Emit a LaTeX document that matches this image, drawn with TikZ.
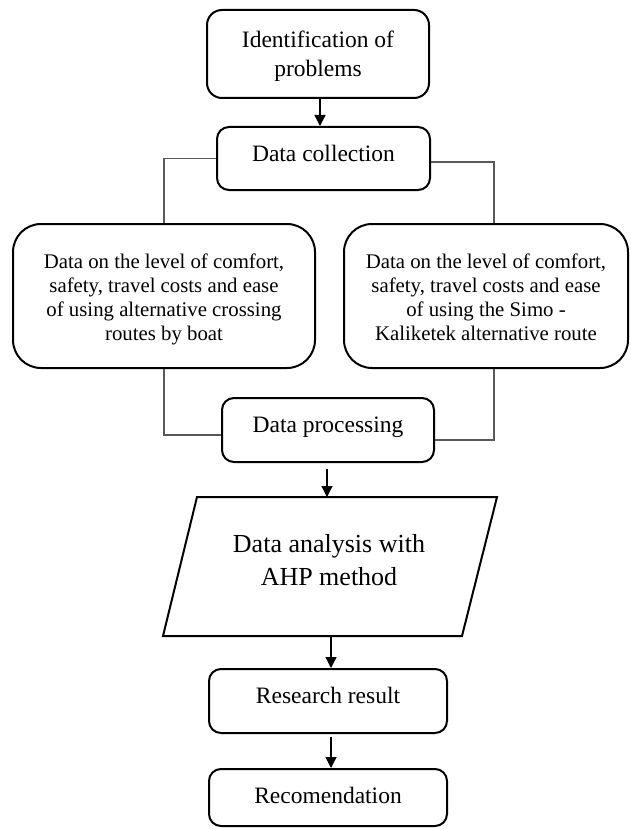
\documentclass[tikz,border=0pt]{standalone}
\usepackage{fontspec}
\setmainfont{Liberation Serif}
\usetikzlibrary{arrows.meta,calc}
\begin{document}
\begin{tikzpicture}[x=1pt,y=-1pt,
  box/.style={draw=black, line width=2pt, inner sep=0pt, rounded corners=#1},
  txt/.style={inner sep=0pt, font=\fontsize{23.5}{29}\selectfont},
  sidetxt/.style={inner sep=0pt, align=center, font=\fontsize{20.8}{24}\selectfont},
  bigtxt/.style={inner sep=0pt, align=center, font=\fontsize{26}{33}\selectfont},
  arr/.style={line width=1.3pt, -{Triangle[length=11pt,width=11pt]}},
  gline/.style={line width=1.2pt, draw=black!65}]
\useasboundingbox (0,0) rectangle (630,829);
% boxes
\node[box=15pt, minimum width=222pt, minimum height=88pt] (b1) at (318,54) {};
\node[txt, align=center] (t1) at (318,56) {Identification of\\problems};
\node[box=12pt, minimum width=213pt, minimum height=63pt] (b2) at (323.5,158.5) {};
\node[txt, anchor=base] (t2) at (323.5,162) {Data collection};
\node[box=28pt, minimum width=302pt, minimum height=144pt] (lb) at (164,296) {};
\node[sidetxt] (tl) at (164,299) {Data on the level of comfort,\\safety, travel costs and ease\\of using alternative crossing\\routes by boat};
\node[box=28pt, minimum width=284pt, minimum height=144pt] (rb) at (486,296) {};
\node[sidetxt] (tr) at (486,297) {Data on the level of comfort,\\safety, travel costs and ease\\of using the Simo -\\Kaliketek alternative route};
\node[box=12pt, minimum width=212pt, minimum height=64pt] (bp) at (328,430) {};
\node[txt, anchor=base] (tp) at (328,432) {Data processing};
% parallelogram
\coordinate (p1) at (197,497);
\coordinate (p2) at (497,497);
\coordinate (p3) at (462,636);
\coordinate (p4) at (163,636);
\draw[line width=2pt, line join=miter] (p1) -- (p2) -- (p3) -- (p4) -- cycle;
\node[bigtxt] (ta) at (329,560) {Data analysis with\\AHP method};
\node[box=12pt, minimum width=238pt, minimum height=64pt] (br) at (328,701) {};
\node[txt, anchor=base] (trr) at (328,703) {Research result};
\node[box=12pt, minimum width=238pt, minimum height=57pt] (bc) at (328,797.5) {};
\node[txt, anchor=base] (tc) at (328,803) {Recomendation};
% arrows
\draw[arr] (b1.south -| 320,0) -- (b2.north -| 320,0);
\draw[arr] ($(bp.south -| 327,0)+(0,6)$) -- (p1 -| 327,0);
\draw[arr] (p4 -| 331,0) -- (br.north -| 331,0);
\draw[arr] ($(br.south -| 331,0)+(0,3)$) -- (bc.north -| 331,0);
% gray branch lines
\draw[gline] (b2.west) -| (lb.north -| 164,0);
\draw[gline] (b2.east |- 0,162) -| (rb.north -| 494,0);
\draw[gline] (lb.south -| 164,0) |- (bp.west |- 0,435);
\draw[gline] (rb.south -| 494,0) |- (bp.east |- 0,440);
\end{tikzpicture}
\end{document}
